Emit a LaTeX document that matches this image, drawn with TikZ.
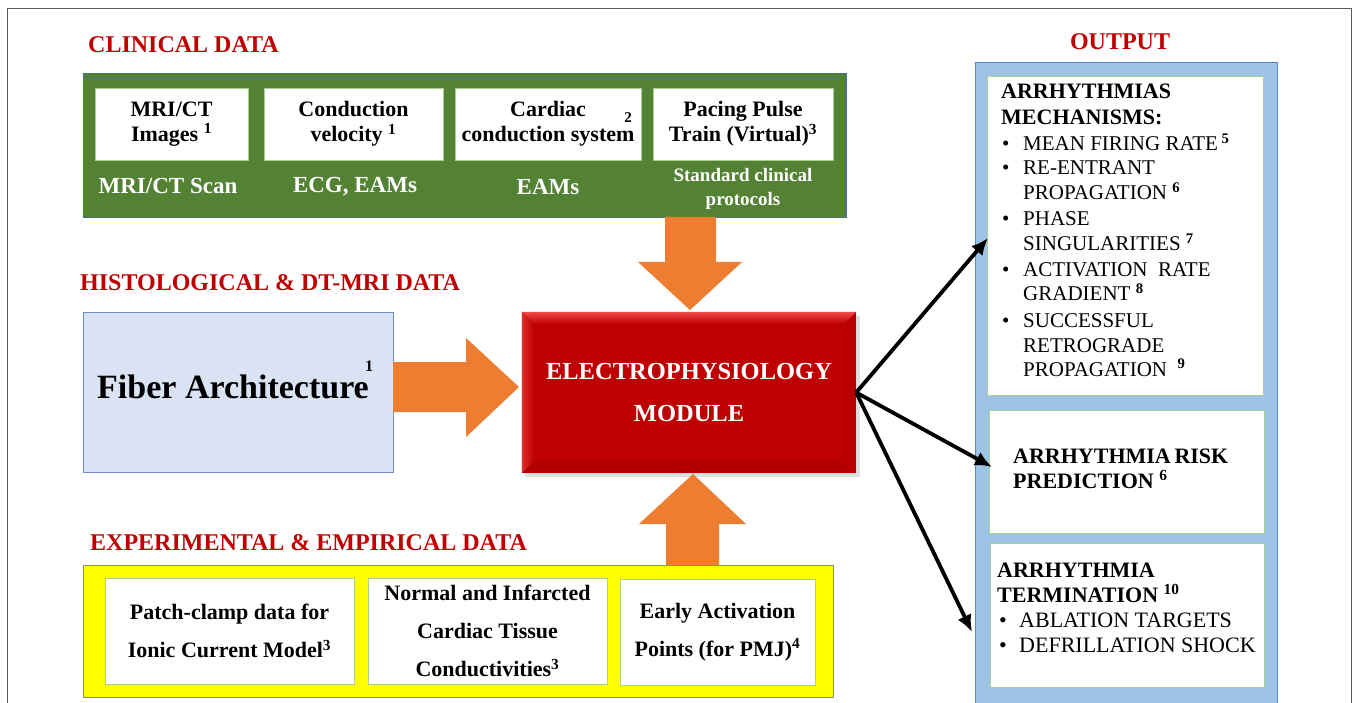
\documentclass[tikz,border=0pt]{standalone}
\usepackage{fontspec}
\setmainfont{Liberation Serif}
\usetikzlibrary{arrows.meta}

\definecolor{titlered}{HTML}{C00000}
\definecolor{clingreen}{HTML}{548235}
\definecolor{clinedge}{HTML}{41719C}
\definecolor{boxedge}{HTML}{A9D18E}
\definecolor{blockorange}{HTML}{ED7D31}
\definecolor{modred}{HTML}{BE0000}
\definecolor{modlight}{HTML}{F24A4A}
\definecolor{outblue}{HTML}{9DC3E6}
\definecolor{outedge}{HTML}{5B86C8}
\definecolor{expyellow}{HTML}{FFFF00}
\definecolor{expedge}{HTML}{7D8CA3}
\definecolor{fiberfill}{HTML}{DAE3F3}
\definecolor{fiberedge}{HTML}{6F8FC8}
\definecolor{framegray}{HTML}{5A5A5A}

\begin{document}
\begin{tikzpicture}[x=1pt,y=-1pt,
  ttl/.style={text=titlered,font=\fontsize{24}{28}\selectfont\bfseries,inner sep=0pt},
  wbox/.style={draw=boxedge,line width=0.9pt,fill=white,inner sep=0pt,align=center,
    font=\fontsize{22}{25}\selectfont\bfseries},
  ybox/.style={wbox,font=\fontsize{22}{38}\selectfont\bfseries},
  clinlabel/.style={text=white,inner sep=0pt,align=center,font=\fontsize{23}{24}\selectfont\bfseries},
  obox/.style={draw=boxedge,line width=1pt,fill=white},
  hd/.style={anchor=base west,inner sep=0pt,font=\fontsize{22}{25}\selectfont\bfseries},
  it/.style={anchor=base west,inner sep=0pt,font=\fontsize{21}{25}\selectfont},
  it3/.style={anchor=base west,inner sep=0pt,font=\fontsize{22}{25}\selectfont},
  blk/.style={fill=blockorange},
  outarrow/.style={line width=3.8pt,-{Latex[length=17pt,width=15pt]}},
  supnum/.style={inner sep=0pt,font=\fontsize{15}{15}\selectfont\bfseries}
]
\useasboundingbox (0,0) rectangle (1357,703);
\clip (0,0) rectangle (1357,703);
\fill[white] (0,0) rectangle (1357,703);

% page frame
\draw[framegray,line width=0.9pt] (7,8) rectangle (1351,730);

% ---------- clinical data ----------
\node[ttl,anchor=west] (tclin) at (88,45) {CLINICAL DATA};
\node[fill=clingreen,draw=clinedge,line width=0.8pt,minimum width=763pt,minimum height=144pt,inner sep=0pt] (clin) at (464.5,145) {};
\node[wbox,minimum width=153pt,minimum height=72pt] (c1) at (171.5,124) {MRI/CT\\Images \textsuperscript{1}};
\node[wbox,minimum width=179pt,minimum height=72pt] (c2) at (353.5,124) {Conduction\\velocity \textsuperscript{1}};
\node[wbox,minimum width=186pt,minimum height=72pt] (c3) at (548,124) {Cardiac\\conduction system};
\node[supnum] (c3s) at (628,118) {2};
\node[wbox,minimum width=180pt,minimum height=72pt] (c4) at (743,124) {Pacing Pulse\\Train (Virtual)\textsuperscript{3}};
\node[clinlabel] (l1) at (168,186) {MRI/CT Scan};
\node[clinlabel] (l2) at (355,187) {ECG, EAMs};
\node[clinlabel] (l3) at (548,187) {EAMs};
\node[clinlabel,font=\fontsize{19}{24}\selectfont\bfseries] (l4) at (743,189) {Standard clinical\\protocols};

% ---------- histological data ----------
\node[ttl,anchor=west] (thist) at (80,283) {HISTOLOGICAL \& DT-MRI DATA};
\node[fill=fiberfill,draw=fiberedge,line width=0.9pt,minimum width=310pt,minimum height=160pt,inner sep=0pt] (fiber) at (238,392) {};
\node[inner sep=0pt,font=\fontsize{34}{36}\selectfont\bfseries] (fibtxt) at (233,387) {Fiber Architecture};
\node[supnum,font=\fontsize{16}{16}\selectfont\bfseries] (fibs) at (369,366) {1};

% ---------- electrophysiology module ----------
\fill[black,opacity=0.12] (525,316) rectangle (860,477);
\node[fill=modred,minimum width=334pt,minimum height=161pt,inner sep=0pt] (ep) at (689,392.5) {};
\shade[top color=modlight,bottom color=modred] (ep.north west) -- (ep.north east) -- ([xshift=-12pt,yshift=-12pt]ep.north east) -- ([xshift=12pt,yshift=-12pt]ep.north west) -- cycle;
\shade[left color=modlight!60!modred,right color=modred] (ep.north west) -- ([xshift=12pt,yshift=-12pt]ep.north west) -- ([xshift=12pt,yshift=12pt]ep.south west) -- (ep.south west) -- cycle;
\fill[modred!88!black,opacity=0.35] (ep.south west) -- ([xshift=12pt,yshift=12pt]ep.south west) -- ([xshift=-12pt,yshift=12pt]ep.south east) -- (ep.south east) -- cycle;
\fill[modred!92!black,opacity=0.3] (ep.north east) -- ([xshift=-12pt,yshift=-12pt]ep.north east) -- ([xshift=-12pt,yshift=12pt]ep.south east) -- (ep.south east) -- cycle;
\node[text=white,align=center,inner sep=0pt,font=\fontsize{24.5}{42}\selectfont\bfseries] (eptxt) at (689,393) {ELECTROPHYSIOLOGY\\MODULE};

% ---------- block arrows into the module ----------
\fill[blk] (665,217) -- (716,217) -- (716,262) -- (742,262) -- (690,310) -- (638,262) -- (665,262) -- cycle;
\fill[blk] (393,362) -- (466,362) -- (466,338) -- (519,387) -- (466,437) -- (466,412) -- (393,412) -- cycle;
\fill[blk] (666,565) -- (666,524) -- (639,524) -- (693,474) -- (746,524) -- (719,524) -- (719,565) -- cycle;

% ---------- experimental data ----------
\node[ttl,anchor=west] (texp) at (90,543) {EXPERIMENTAL \& EMPIRICAL DATA};
\node[fill=expyellow,draw=expedge,line width=0.9pt,minimum width=750pt,minimum height=132pt,inner sep=0pt] (exp) at (458,631) {};
\node[ybox,minimum width=249pt,minimum height=106pt] (y1) at (229.5,631) {Patch-clamp data for\\Ionic Current Model\textsuperscript{3}};
\node[ybox,minimum width=239pt,minimum height=106pt] (y2) at (487.5,631) {Normal and Infarcted\\Cardiac Tissue\\Conductivities\textsuperscript{3}};
\node[ybox,minimum width=195pt,minimum height=106pt] (y3) at (717.5,632) {Early Activation\\Points (for PMJ)\textsuperscript{4}};

% ---------- output ----------
\node[ttl] (tout) at (1120,42) {OUTPUT};
\draw[fill=outblue,draw=outedge,line width=1pt] (975,63) rectangle (1277,740);
\node[obox,minimum width=276pt,minimum height=318pt,inner sep=0pt] (o1) at (1125,236) {};
\node[obox,minimum width=275pt,minimum height=123pt,inner sep=0pt] (o2) at (1126.5,471.5) {};
\node[obox,minimum width=274pt,minimum height=144pt,inner sep=0pt] (o3) at (1127,615) {};

% arrhythmia mechanisms
\node[hd] (m1) at (1001,99) {ARRHYTHMIAS};
\node[hd] (m2) at (1001,125) {MECHANISMS:};
\foreach \yy in {151,175,226,277,327}
  \node[it] at (1002,\yy) {\textbullet};
\node[it] (m3) at (1023,151) {MEAN FIRING RATE\,\textsuperscript{\bfseries 5}};
\node[it] (m4) at (1023,175) {RE-ENTRANT};
\node[it] (m5) at (1023,200) {PROPAGATION \textsuperscript{\bfseries 6}};
\node[it] (m6) at (1023,226) {PHASE};
\node[it] (m7) at (1023,251) {SINGULARITIES \textsuperscript{\bfseries 7}};
\node[it] (m8) at (1023,277) {ACTIVATION\ \ RATE};
\node[it] (m9) at (1023,301) {GRADIENT \textsuperscript{\bfseries 8}};
\node[it] (m10) at (1023,327) {SUCCESSFUL};
\node[it] (m11) at (1023,352) {RETROGRADE};
\node[it] (m12) at (1023,376) {PROPAGATION\ \ \textsuperscript{\bfseries 9}};

% risk prediction
\node[hd] (r1) at (1013,463) {ARRHYTHMIA\,RISK};
\node[hd] (r2) at (1013,488) {PREDICTION \textsuperscript{6}};

% termination
\node[hd] (t1) at (997,577) {ARRHYTHMIA};
\node[hd] (t2) at (997,602) {TERMINATION \textsuperscript{10}};
\node[it3] at (999,627) {\textbullet};
\node[it3] at (999,652) {\textbullet};
\node[it3] (t3) at (1019,627) {ABLATION TARGETS};
\node[it3] (t4) at (1019,652) {DEFRILLATION SHOCK};

% arrows to the outputs
\coordinate (a1) at (988,238);
\coordinate (a2) at (992,467);
\coordinate (a3) at (972,632);
\draw[outarrow] (ep.east) -- (a1);
\draw[outarrow] (ep.east) -- (a2);
\draw[outarrow] (ep.east) -- (a3);
\end{tikzpicture}
\end{document}
